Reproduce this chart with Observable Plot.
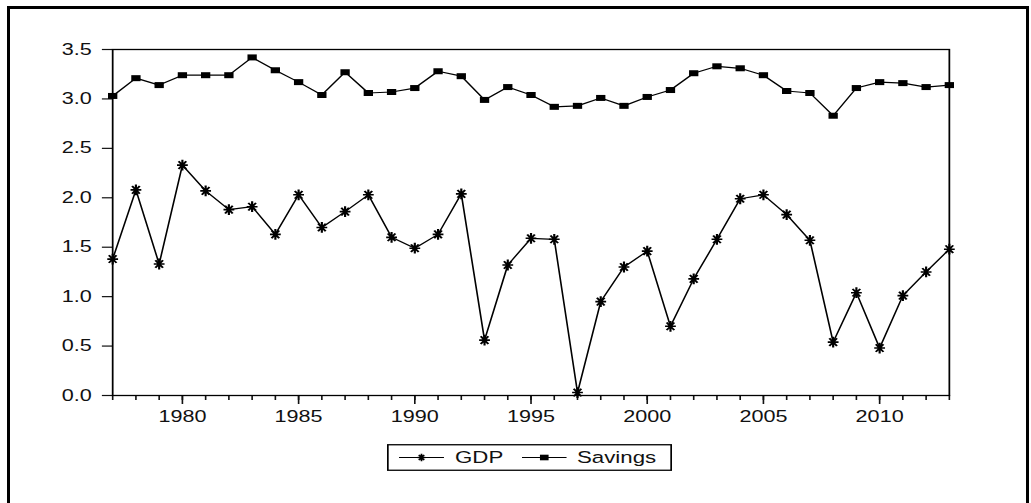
<!DOCTYPE html>
<html>
<head>
<meta charset="utf-8">
<script src="https://cdn.jsdelivr.net/npm/d3@7"></script>
<script src="https://cdn.jsdelivr.net/npm/@observablehq/plot@0.6"></script>
<style>
  html, body { margin: 0; padding: 0; background: #fff; overflow: hidden; }
  #wrap { position: relative; width: 1031px; height: 503px; overflow: hidden; background: #fff; }
  #outer { position: absolute; left: 7px; top: 6px; width: 1022px; height: 560px; box-sizing: border-box;
           border: 3px solid #000; border-bottom: none; pointer-events: none; }
  #legend { position: absolute; left: 387px; top: 444px; }
  text { fill: #111; }
</style>
</head>
<body>
<div id="wrap">
  <div id="chart"></div>
  <div id="legend"></div>
  <div id="outer"></div>
</div>
<script>
// ---- data ----
const years = [1977,1978,1979,1980,1981,1982,1983,1984,1985,1986,1987,1988,1989,1990,1991,1992,1993,1994,1995,1996,1997,1998,1999,2000,2001,2002,2003,2004,2005,2006,2007,2008,2009,2010,2011,2012,2013];
const gdp = [1.38,2.08,1.33,2.33,2.07,1.88,1.91,1.63,2.03,1.70,
             1.86,2.03,1.60,1.49,1.63,2.04,0.56,1.32,1.59,1.58,
             0.03,0.95,1.30,1.46,0.70,1.18,1.58,1.99,2.03,1.83,
             1.57,0.54,1.04,0.48,1.01,1.25,1.48];
const savings = [3.03,3.21,3.14,3.24,3.24,3.24,3.42,3.29,3.17,3.04,
                 3.27,3.06,3.07,3.11,3.28,3.23,2.99,3.12,3.04,2.92,
                 2.93,3.01,2.93,3.02,3.09,3.26,3.33,3.31,3.24,3.08,
                 3.06,2.83,3.11,3.17,3.16,3.12,3.14];
const yearLabels = [1980,1985,1990,1995,2000,2005,2010];
const yTicks = [0,0.5,1.0,1.5,2.0,2.5,3.0,3.5];
const seriesNames = ["GDP","Savings"];

const rows = years.map((y, i) => ({year: y, gdp: gdp[i], savings: savings[i]}));

// horizontal stretch of the reference picture
const SX = 1.35;
const W = 1031, H = 503;
const LW = Math.round(W / SX);

const star = {
  draw(ctx, size) {
    const r = Math.sqrt(size / Math.PI), rx = r / SX, d = Math.SQRT1_2;
    ctx.moveTo(-rx, 0); ctx.lineTo(rx, 0);
    ctx.moveTo(0, -r); ctx.lineTo(0, r);
    ctx.moveTo(-rx * d, -r * d); ctx.lineTo(rx * d, r * d);
    ctx.moveTo(-rx * d, r * d); ctx.lineTo(rx * d, -r * d);
  }
};
const square = {
  draw(ctx, size) {
    const r = Math.sqrt(size / Math.PI), w = r * 1.15;
    ctx.rect(-w, -r, 2 * w, 2 * r);
  }
};

const plot = Plot.plot({
  width: LW,
  height: H,
  marginLeft: 83,
  marginRight: LW - 703,
  marginTop: 49,
  marginBottom: H - 395,
  style: {fontFamily: "'Liberation Sans', Arial, sans-serif", fontSize: "16px", color: "#111", background: "transparent"},
  x: {domain: [1977, 2013]},
  y: {domain: [0, 3.5]},
  marks: [
    Plot.axisY({ticks: yTicks, tickSize: 7.5, tickPadding: 8, tickFormat: d3.format(".1f"), label: null, strokeWidth: 1.2}),
    Plot.axisX({ticks: years, tickSize: 5, tickFormat: () => "", label: null, strokeWidth: 1.2}),
    Plot.axisX({ticks: yearLabels, tickSize: 9, tickPadding: 6, tickFormat: d => String(d), label: null, strokeWidth: 1.2}),
    Plot.frame({stroke: "#000", strokeWidth: 1.3}),
    Plot.line(rows, {x: "year", y: "savings", stroke: "#000", strokeWidth: 1.2}),
    Plot.line(rows, {x: "year", y: "gdp", stroke: "#000", strokeWidth: 1.2}),
    Plot.dot(rows, {x: "year", y: "savings", symbol: square, r: 3, fill: "#000", stroke: "none"}),
    Plot.dot(rows, {x: "year", y: "gdp", symbol: star, r: 5.4, fill: "none", stroke: "#000", strokeWidth: 1.6})
  ]
});
plot.setAttribute("preserveAspectRatio", "none");
plot.setAttribute("width", W);
plot.setAttribute("height", H);
plot.style.width = W + "px";
plot.style.height = H + "px";
plot.style.maxWidth = "none";
plot.style.display = "block";
document.getElementById("chart").appendChild(plot);

// ---- legend (stretched like the chart) ----
const legW = 285, legH = 27, lw = legW / SX;
const leg = d3.select("#legend").append("svg")
  .attr("width", legW).attr("height", legH)
  .attr("viewBox", `0 0 ${lw} ${legH}`)
  .attr("preserveAspectRatio", "none")
  .style("display", "block")
  .style("font-family", "'Liberation Sans', Arial, sans-serif")
  .style("font-size", "16.5px");
leg.append("rect").attr("x", 0.6).attr("y", 0.75).attr("width", lw - 1.2).attr("height", legH - 1.5)
  .attr("fill", "#fff").attr("stroke", "#000").attr("stroke-width", 1.3);
const items = [
  {name: seriesNames[0], x0: 8.9, x1: 42.2, tx: 50.4, sym: "star"},
  {name: seriesNames[1], x0: 100, x1: 133, tx: 140.7, sym: "square"}
];
const cy = legH / 2;
items.forEach(it => {
  leg.append("line").attr("x1", it.x0).attr("x2", it.x1).attr("y1", cy).attr("y2", cy)
    .attr("stroke", "#000").attr("stroke-width", 1.2);
  const mx = (it.x0 + it.x1) / 2;
  if (it.sym === "star") {
    const r = 3.8, rx = r / SX, d = Math.SQRT1_2;
    const p = `M${mx - rx},${cy}L${mx + rx},${cy}M${mx},${cy - r}L${mx},${cy + r}` +
              `M${mx - rx * d},${cy - r * d}L${mx + rx * d},${cy + r * d}M${mx - rx * d},${cy + r * d}L${mx + rx * d},${cy - r * d}`;
    leg.append("path").attr("d", p).attr("stroke", "#000").attr("stroke-width", 1.3).attr("fill", "none");
  } else {
    leg.append("rect").attr("x", mx - 3.2).attr("y", cy - 2.8).attr("width", 6.4).attr("height", 5.6).attr("fill", "#000");
  }
  leg.append("text").attr("x", it.tx).attr("y", cy).attr("dy", "0.36em").text(it.name);
});
</script>
</body>
</html>
